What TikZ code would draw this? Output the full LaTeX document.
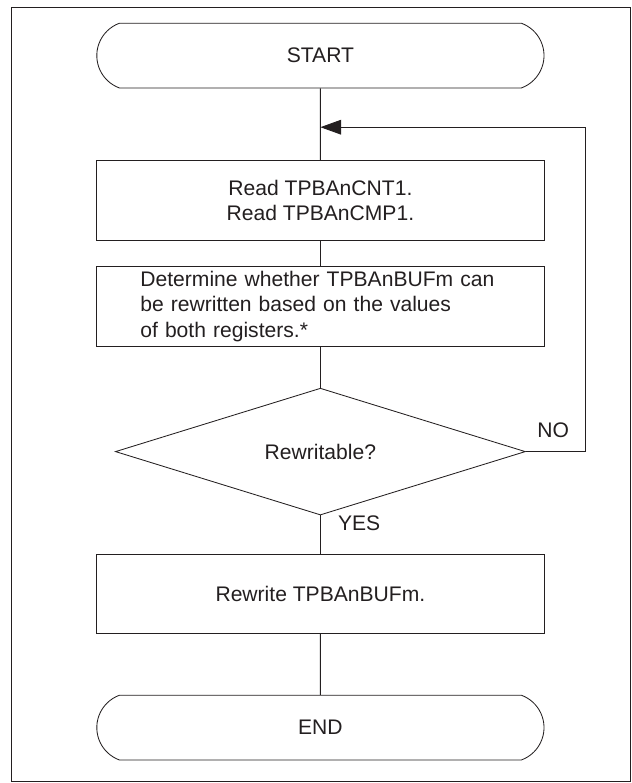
\documentclass[tikz,border=0pt]{standalone}
\usepackage{fontspec}
\setmainfont{Liberation Sans}
\usetikzlibrary{shapes.geometric,shapes.misc,arrows.meta}
\definecolor{linegray}{HTML}{231F20}
\newcommand{\flowfont}{\fontsize{15}{18}\selectfont}
\tikzset{
  terminal/.style={rounded rectangle, rounded rectangle arc length=140, draw=linegray, line width=0.6pt, minimum width=11.18cm, minimum height=1.62cm, inner sep=0pt, font=\flowfont, text=linegray},
  process/.style={rectangle, draw=linegray, line width=0.6pt, minimum width=11.18cm, minimum height=1.98cm, inner sep=0pt, align=center, font=\flowfont, text=linegray},
  decision/.style={diamond, draw=linegray, line width=0.6pt, minimum width=10.25cm, minimum height=2.83cm, inner sep=0pt, font=\flowfont, text=linegray},
  flowline/.style={draw=linegray, line width=0.6pt},
  branchlabel/.style={inner sep=0pt, font=\flowfont, text=linegray}
}

\begin{document}
\begin{tikzpicture}
  \useasboundingbox (0,0) rectangle (15.8,-19.575);
  \draw[linegray, line width=0.7pt] (0.275,-0.175) rectangle (15.75,-19.525);

  \node[terminal] (start) at (8.01,-1.39) {START};
  \node[process] (readregs) at (8.01,-5.01) {Read TPBAnCNT1.\\Read TPBAnCMP1.};
  \node[process, text width=9cm, align=left] (judge) at (8.01,-7.66)
    {Determine whether TPBAnBUFm can\\be rewritten based on the values\\of both registers.*};
  \node[decision] (rewritable) at (8.01,-11.29) {Rewritable?};
  \node[process] (rewrite) at (8.01,-14.85) {Rewrite TPBAnBUFm.};
  \node[terminal] (end) at (8.01,-18.19) {END};

  \node[branchlabel] (nolabel) at (13.83,-10.75) {NO};
  \node[branchlabel] (yeslabel) at (8.98,-13.08) {YES};

  \coordinate (looptop) at (14.63,-3.18);
  \coordinate (join) at (8.01,-3.18);

  \draw[flowline] (start) -- (readregs);
  \draw[flowline] (readregs) -- (judge);
  \draw[flowline] (judge) -- (rewritable);
  \draw[flowline] (rewritable) -- (rewrite);
  \draw[flowline] (rewrite) -- (end);
  \draw[flowline, -{Triangle[length=0.52cm, width=0.37cm]}] (rewritable.east) -| (looptop) -- (join);
\end{tikzpicture}
\end{document}
